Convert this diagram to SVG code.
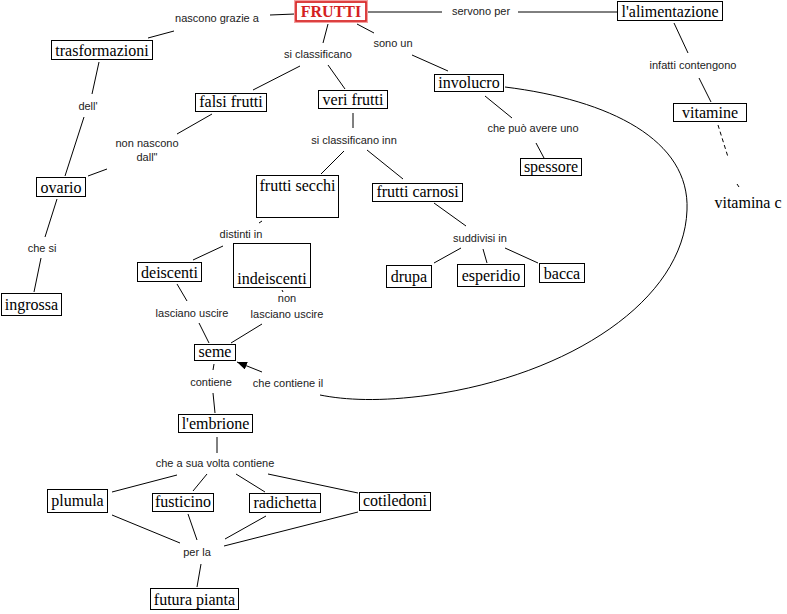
<svg xmlns="http://www.w3.org/2000/svg" width="787" height="614" viewBox="0 0 787 614">
<defs>
<style>
.n{fill:#fff;stroke:#000;stroke-width:1}
.t{font-family:"Liberation Serif","Times New Roman",serif;font-size:16px;fill:#000;text-anchor:middle}
.l{font-family:"Liberation Sans",Arial,sans-serif;font-size:11px;fill:#222;text-anchor:middle}
.c line,.c path{stroke:#000;stroke-width:1;fill:none}
</style>
<marker id="arr" viewBox="0 0 10 8" refX="10" refY="4" markerWidth="10" markerHeight="8" markerUnits="userSpaceOnUse" orient="auto">
<path d="M0,0 L10,4 L0,8 Z" fill="#000"/>
</marker>
</defs>
<rect width="787" height="614" fill="#fff"/>
<g id="connectors" class="c">
<line x1="148" y1="38" x2="174" y2="31"/>
<line x1="270" y1="15" x2="295" y2="14"/>
<line x1="99" y1="62" x2="92" y2="94"/>
<line x1="84" y1="117" x2="65" y2="176"/>
<line x1="212" y1="114" x2="177" y2="134"/>
<line x1="107" y1="169" x2="88" y2="176"/>
<line x1="328" y1="24" x2="323" y2="43"/>
<line x1="300" y1="66" x2="253" y2="90"/>
<line x1="328" y1="65" x2="345" y2="89"/>
<line x1="353" y1="113" x2="353" y2="128"/>
<line x1="344" y1="151" x2="321" y2="174"/>
<line x1="367" y1="150" x2="403" y2="179"/>
<line x1="262" y1="221" x2="259" y2="223"/>
<line x1="223" y1="246" x2="193" y2="260"/>
<line x1="434" y1="203" x2="466" y2="226"/>
<line x1="461" y1="248" x2="434" y2="263"/>
<line x1="483" y1="249" x2="487" y2="263"/>
<line x1="505" y1="248" x2="538" y2="263"/>
<line x1="177" y1="284" x2="187" y2="301"/>
<line x1="199" y1="323" x2="209" y2="343"/>
<line x1="282" y1="290" x2="283" y2="292"/>
<line x1="262" y1="324" x2="231" y2="343"/>
<line x1="214" y1="364" x2="213" y2="370"/>
<line x1="213" y1="393" x2="215" y2="413"/>
<line x1="217" y1="437" x2="217" y2="453"/>
<line x1="177" y1="475" x2="112" y2="492"/>
<line x1="207" y1="474" x2="193" y2="491"/>
<line x1="236" y1="474" x2="265" y2="492"/>
<line x1="268" y1="474" x2="358" y2="493"/>
<line x1="112" y1="515" x2="180" y2="543"/>
<line x1="188" y1="514" x2="197" y2="540"/>
<line x1="266" y1="516" x2="225" y2="539"/>
<line x1="358" y1="512" x2="224" y2="546"/>
<line x1="201" y1="564" x2="197" y2="587"/>
<line x1="57" y1="199" x2="45" y2="237"/>
<line x1="41" y1="258" x2="34" y2="292"/>
<line x1="368" y1="12" x2="442" y2="12"/>
<line x1="518" y1="12" x2="617" y2="12"/>
<line x1="357" y1="24" x2="374" y2="33"/>
<line x1="412" y1="55" x2="448" y2="71"/>
<line x1="485" y1="96" x2="512" y2="118"/>
<line x1="536" y1="143" x2="544" y2="158"/>
<line x1="674" y1="23" x2="688" y2="53"/>
<line x1="699" y1="78" x2="711" y2="102"/>
<line x1="718" y1="125" x2="728" y2="157" stroke-dasharray="4,3"/>
<line x1="737" y1="184" x2="739" y2="187"/>
<path d="M505,87 C610,100 690,140 687,210 C684,300 570,375 430,395 C380,402 345,400 320,395"/>
<line x1="262" y1="372" x2="237" y2="362" marker-end="url(#arr)"/>
</g>
<g id="labels">
<text class="l" x="217" y="22">nascono grazie a</text>
<text class="l" x="88" y="110">dell'</text>
<text class="l" x="147" y="147">non nascono</text>
<text class="l" x="147" y="161">dall"</text>
<text class="l" x="318" y="58">si classificano</text>
<text class="l" x="393" y="47">sono un</text>
<text class="l" x="481" y="15">servono per</text>
<text class="l" x="533" y="132">che può avere uno</text>
<text class="l" x="693" y="69">infatti contengono</text>
<text class="l" x="354" y="144">si classificano inn</text>
<text class="l" x="241" y="238">distinti in</text>
<text class="l" x="480" y="242">suddivisi in</text>
<text class="l" x="42" y="252">che si</text>
<text class="l" x="192" y="317">lasciano uscire</text>
<text class="l" x="287" y="302">non</text>
<text class="l" x="287" y="318">lasciano uscire</text>
<text class="l" x="211" y="386">contiene</text>
<text class="l" x="288" y="387">che contiene il</text>
<text class="l" x="215" y="467">che a sua volta contiene</text>
<text class="l" x="197" y="556">per la</text>
</g>
<g id="frutti">
<rect x="295.5" y="1.5" width="71" height="20" fill="#fff" stroke="#f4a0a0" stroke-width="3"/>
<rect x="296" y="2" width="70" height="19" fill="none" stroke="#d42020" stroke-width="1.5"/>
<text class="t" x="331" y="17" fill="#d42020" style="fill:#d42020;font-weight:bold">FRUTTI</text>
</g>
<g id="trasformazioni"><rect class="n" x="51.5" y="40.5" width="101" height="19"/><text class="t" x="102" y="56">trasformazioni</text></g>
<g id="ovario"><rect class="n" x="36.5" y="177.5" width="49" height="19"/><text class="t" x="61" y="193">ovario</text></g>
<g id="ingrossa"><rect class="n" x="1.5" y="293.5" width="60" height="22"/><text class="t" x="31.5" y="310">ingrossa</text></g>
<g id="falsi-frutti"><rect class="n" x="195.5" y="93.5" width="71" height="18"/><text class="t" x="231" y="107">falsi frutti</text></g>
<g id="veri-frutti"><rect class="n" x="318.5" y="90.5" width="69" height="18"/><text class="t" x="353" y="105">veri frutti</text></g>
<g id="frutti-secchi"><rect class="n" x="256.5" y="175.5" width="82" height="42"/><text class="t" x="297.5" y="191">frutti secchi</text></g>
<g id="frutti-carnosi"><rect class="n" x="372.5" y="183.5" width="90" height="18"/><text class="t" x="417.5" y="197">frutti carnosi</text></g>
<g id="deiscenti"><rect class="n" x="137.5" y="262.5" width="64" height="19"/><text class="t" x="169.5" y="278">deiscenti</text></g>
<g id="indeiscenti"><rect class="n" x="233.5" y="243.5" width="77" height="44"/><text class="t" x="272" y="284">indeiscenti</text></g>
<g id="drupa"><rect class="n" x="386.5" y="265.5" width="45" height="22"/><text class="t" x="409" y="282">drupa</text></g>
<g id="esperidio"><rect class="n" x="457.5" y="264.5" width="67" height="22"/><text class="t" x="491" y="281">esperidio</text></g>
<g id="bacca"><rect class="n" x="539.5" y="263.5" width="45" height="19"/><text class="t" x="562" y="279">bacca</text></g>
<g id="seme"><rect class="n" x="194.5" y="344.5" width="41" height="16"/><text class="t" x="215" y="357">seme</text></g>
<g id="embrione"><rect class="n" x="178.5" y="414.5" width="74" height="18"/><text class="t" x="215.5" y="429">l'embrione</text></g>
<g id="plumula"><rect class="n" x="47.5" y="489.5" width="60" height="23"/><text class="t" x="77.5" y="506">plumula</text></g>
<g id="fusticino"><rect class="n" x="152.5" y="493.5" width="61" height="18"/><text class="t" x="183" y="507">fusticino</text></g>
<g id="radichetta"><rect class="n" x="249.5" y="493.5" width="71" height="19"/><text class="t" x="285" y="508">radichetta</text></g>
<g id="cotiledoni"><rect class="n" x="359.5" y="492.5" width="71" height="18"/><text class="t" x="395" y="506">cotiledoni</text></g>
<g id="futura-pianta"><rect class="n" x="150.5" y="588.5" width="88" height="21"/><text class="t" x="194.5" y="605">futura pianta</text></g>
<g id="involucro"><rect class="n" x="434.5" y="74.5" width="69" height="17"/><text class="t" x="469" y="88">involucro</text></g>
<g id="spessore"><rect class="n" x="520.5" y="158.5" width="61" height="17"/><text class="t" x="551" y="172">spessore</text></g>
<g id="alimentazione"><rect class="n" x="617.5" y="1.5" width="105" height="19"/><text class="t" x="670" y="17">l'alimentazione</text></g>
<g id="vitamine"><rect class="n" x="673.5" y="103.5" width="73" height="18"/><text class="t" x="710" y="118">vitamine</text></g>
<g id="vitamina-c"><text class="t" x="748" y="208">vitamina c</text></g>
</svg>
